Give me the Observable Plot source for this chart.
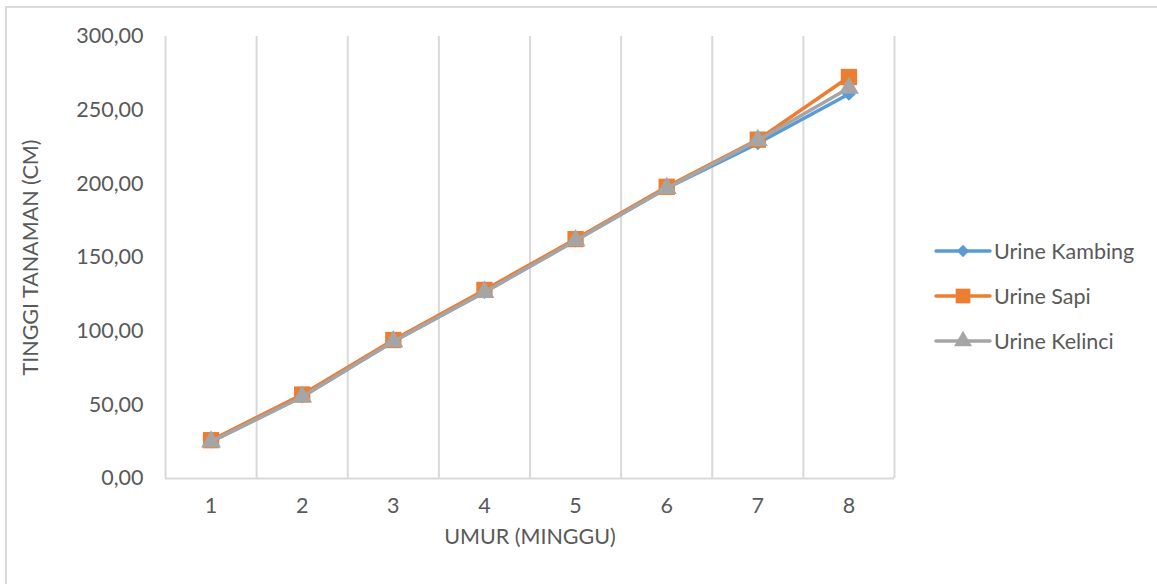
<!DOCTYPE html>
<html>
<head>
<meta charset="utf-8">
<script src="https://cdn.jsdelivr.net/npm/d3@7"></script>
<script src="https://cdn.jsdelivr.net/npm/@observablehq/plot@0.6"></script>
<style>
  html, body { margin: 0; padding: 0; background: #fff; }
  #chart { position: relative; width: 1157px; height: 584px; overflow: hidden; font-family: Lato, "Open Sans", sans-serif; }
  #frame { position: absolute; left: 5px; top: 6px; right: -10px; bottom: -10px; border-left: 2px solid #d9d9d9; border-top: 2px solid #d9d9d9; pointer-events: none; }
  #legend { position: absolute; left: 934px; top: 228px; color: #595959; font-size: 21.5px; }
  #legend .item { display: flex; align-items: center; height: 45px; }
  #legend svg { margin-right: 2px; }
</style>
</head>
<body>
<div id="chart"><div id="frame"></div><div id="legend"></div></div>
<script>
// Minggu pengamatan (umur tanaman)
const weeks = [1, 2, 3, 4, 5, 6, 7, 8];
// Tinggi tanaman (cm) per perlakuan
const kambing = [25.0, 55.5, 93.0, 126.5, 161.5, 197.0, 227.5, 261.0];
const sapi    = [26.0, 57.0, 94.0, 128.0, 162.5, 198.0, 230.0, 272.5];
const kelinci = [25.0, 55.5, 93.0, 126.5, 161.5, 197.0, 229.5, 265.0];
const seriesNames = ["Urine Kambing", "Urine Sapi", "Urine Kelinci"];
const seriesColors = ["#5B9BD5", "#ED7D31", "#A5A5A5"];
const seriesSymbols = ["diamond2", "square", "triangle"];
const seriesR = [6.2, 9.2, 7.4];
const yTicks = [0, 50, 100, 150, 200, 250, 300];

const values = [kambing, sapi, kelinci];
const rows = values.map((vals, i) => weeks.map((w, j) => ({week: w, tinggi: vals[j], series: seriesNames[i]})));

// batas kategori untuk garis kisi vertikal
const bounds = [weeks[0] - 0.5, ...weeks.map(w => w + 0.5)];

const fmt = v => d3.format(".2f")(v).replace(".", ",");
const gridColor = "#d9d9d9";
const textColor = "#595959";
const fontSize = 21.5;

const marks = [
  Plot.ruleX(bounds, {y1: 0, y2: yTicks[yTicks.length - 1], stroke: gridColor, strokeWidth: 2}),
  Plot.ruleY([0], {x1: bounds[0], x2: bounds[bounds.length - 1], stroke: gridColor, strokeWidth: 2}),
  Plot.axisX(weeks, {tickSize: 0, tickPadding: 19, fontSize, fill: textColor, tickFormat: d => String(d), label: null}),
  Plot.axisY(yTicks, {tickSize: 0, tickPadding: 22, fontSize, fill: textColor, tickFormat: fmt, label: null}),
  Plot.text(["UMUR (MINGGU)"], {frameAnchor: "bottom", dy: 65, fontSize, fill: textColor}),
  Plot.text(["TINGGI TANAMAN (CM)"], {frameAnchor: "left", textAnchor: "middle", rotate: -90, dx: -134, fontSize, fill: textColor})
];
rows.forEach((data, i) => {
  marks.push(Plot.line(data, {x: "week", y: "tinggi", stroke: seriesColors[i], strokeWidth: 3.5}));
  marks.push(Plot.dot(data, {x: "week", y: "tinggi", symbol: () => seriesSymbols[i], r: seriesR[i], fill: seriesColors[i], stroke: "none"}));
});

const plot = Plot.plot({
  width: 1157,
  height: 584,
  marginLeft: 165,
  marginRight: 263,
  marginTop: 36,
  marginBottom: 106,
  style: {fontFamily: "Lato, 'Open Sans', sans-serif", background: "transparent"},
  x: {type: "linear", domain: [bounds[0], bounds[bounds.length - 1]], axis: null},
  y: {domain: [0, yTicks[yTicks.length - 1]], axis: null},
  symbol: {type: "identity"},
  marks
});
plot.style.position = "absolute";
plot.style.left = "0";
plot.style.top = "0";
document.getElementById("chart").prepend(plot);

// Legenda di sisi kanan
const legend = document.getElementById("legend");
seriesNames.forEach((name, i) => {
  const item = document.createElement("div");
  item.className = "item";
  const sw = d3.create("svg").attr("width", 58).attr("height", 22);
  sw.append("line").attr("x1", 2).attr("x2", 56).attr("y1", 11).attr("y2", 11)
    .attr("stroke", seriesColors[i]).attr("stroke-width", 3.5).attr("stroke-linecap", "round");
  const symMap = {diamond2: d3.symbolDiamond2, square: d3.symbolSquare, triangle: d3.symbolTriangle};
  const r = seriesR[i] * 0.9;
  sw.append("path").attr("transform", "translate(29,11)")
    .attr("d", d3.symbol(symMap[seriesSymbols[i]], Math.PI * r * r)())
    .attr("fill", seriesColors[i]);
  item.appendChild(sw.node());
  const label = document.createElement("span");
  label.textContent = name;
  item.appendChild(label);
  legend.appendChild(item);
});
</script>
</body>
</html>
